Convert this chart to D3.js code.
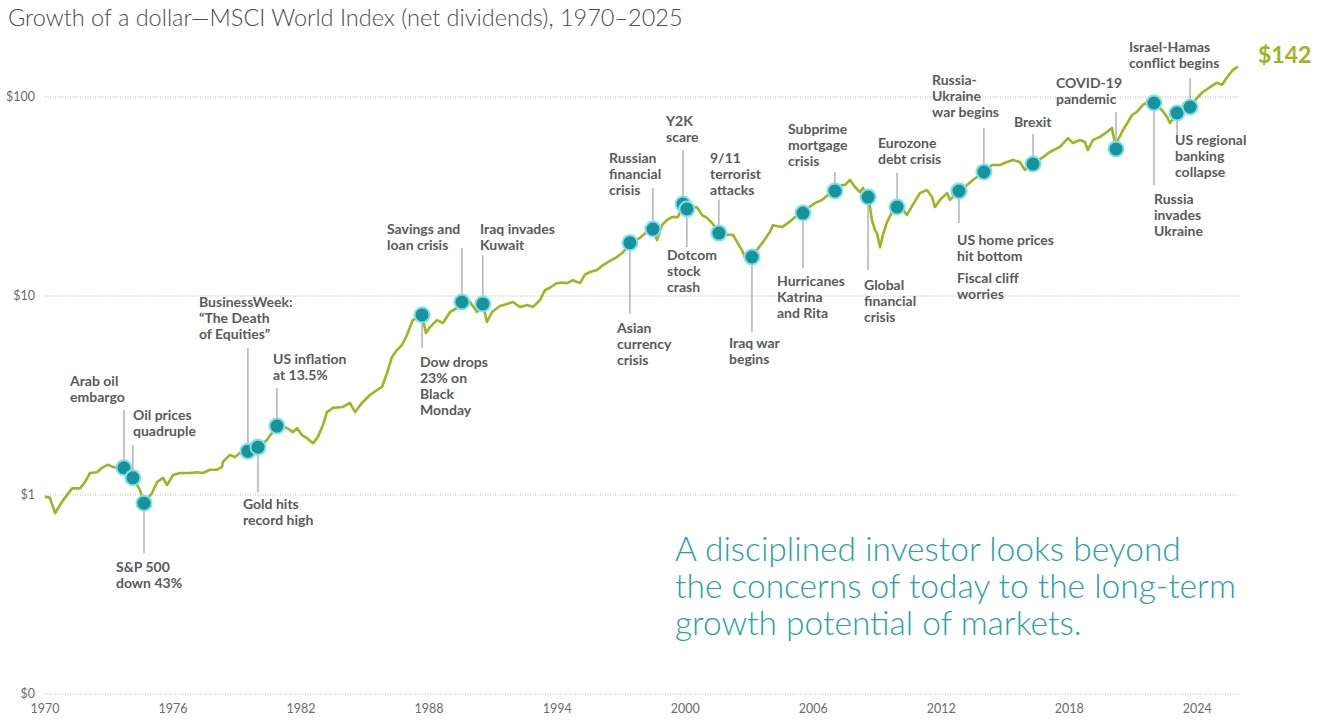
<!DOCTYPE html>
<html>
<head>
<meta charset="utf-8">
<script src="https://cdn.jsdelivr.net/npm/d3@7"></script>
<style>
  body { margin: 0; background: #fff; }
  svg { display: block; font-family: Lato, 'Open Sans', sans-serif; }
</style>
</head>
<body>
<svg width="1320" height="721"></svg>
<script>
// growth of $1 (decimal year, dollars)
const dates = [
  1970.00, 1970.23, 1970.47, 1970.84, 1971.27, 1971.64, 1971.87, 1972.11, 1972.44, 1972.67,
  1972.95, 1973.19, 1973.42, 1973.70, 1974.12, 1974.45, 1974.64, 1975.01, 1975.25, 1975.53,
  1975.72, 1976.00, 1976.33, 1976.79, 1977.12, 1977.40, 1977.73, 1978.06, 1978.29, 1978.34,
  1978.67, 1978.90, 1979.14, 1979.51, 1979.98, 1980.40, 1980.87, 1981.34, 1981.62, 1981.81,
  1982.04, 1982.28, 1982.56, 1982.79, 1983.03, 1983.21, 1983.50, 1983.96, 1984.29, 1984.53,
  1984.85, 1985.23, 1985.56, 1985.79, 1986.03, 1986.26, 1986.49, 1986.73, 1986.96, 1987.24,
  1987.67, 1987.85, 1988.04, 1988.37, 1988.65, 1988.98, 1989.31, 1989.54, 1989.92, 1990.24,
  1990.52, 1990.71, 1990.95, 1991.32, 1991.65, 1991.93, 1992.26, 1992.59, 1992.87, 1993.20,
  1993.43, 1993.66, 1993.99, 1994.23, 1994.46, 1994.74, 1995.07, 1995.30, 1995.54, 1995.87,
  1996.15, 1996.48, 1996.80, 1997.09, 1997.41, 1997.88, 1998.21, 1998.49, 1998.68, 1998.91,
  1999.15, 1999.38, 1999.66, 1999.90, 2000.08, 2000.55, 2000.79, 2001.02, 2001.26, 2001.58,
  2001.96, 2002.24, 2002.43, 2002.66, 2002.80, 2003.13, 2003.36, 2003.65, 2003.97, 2004.11,
  2004.54, 2004.82, 2005.15, 2005.52, 2005.75, 2006.08, 2006.41, 2006.69, 2007.02, 2007.35,
  2007.49, 2007.72, 2007.96, 2008.19, 2008.33, 2008.57, 2008.66, 2008.75, 2008.89, 2008.99,
  2009.13, 2009.27, 2009.46, 2009.69, 2009.93, 2010.16, 2010.39, 2010.63, 2011.00, 2011.33,
  2011.57, 2011.71, 2011.94, 2012.27, 2012.41, 2012.83, 2013.21, 2013.49, 2014.00, 2014.38,
  2014.75, 2015.08, 2015.36, 2015.69, 2015.92, 2016.06, 2016.30, 2016.72, 2017.09, 2017.56,
  2017.94, 2018.17, 2018.50, 2018.73, 2018.87, 2019.11, 2019.44, 2019.77, 2020.00, 2020.19,
  2020.28, 2020.52, 2020.75, 2020.94, 2021.17, 2021.45, 2021.69, 2021.97, 2022.34, 2022.58,
  2022.72, 2023.05, 2023.66, 2024.03, 2024.26, 2024.59, 2024.92, 2025.15, 2025.38, 2025.67,
  2025.90
];
const values = [
  0.98, 0.97, 0.81, 0.94, 1.08, 1.08, 1.16, 1.29, 1.30, 1.37,
  1.42, 1.38, 1.37, 1.37, 1.22, 1.06, 0.91, 1.02, 1.16, 1.22,
  1.12, 1.26, 1.29, 1.29, 1.30, 1.29, 1.34, 1.34, 1.38, 1.47,
  1.59, 1.55, 1.63, 1.66, 1.74, 1.89, 2.22, 2.17, 2.07, 2.17,
  2.00, 1.93, 1.82, 1.96, 2.25, 2.61, 2.74, 2.77, 2.90, 2.61,
  2.90, 3.18, 3.37, 3.49, 4.10, 4.94, 5.35, 5.67, 6.37, 7.57,
  8.03, 6.52, 6.98, 7.57, 7.32, 8.31, 8.70, 9.33, 9.33, 8.31,
  9.12, 7.40, 8.31, 8.91, 9.12, 9.33, 8.81, 9.01, 8.81, 9.55,
  10.7, 11.0, 11.6, 11.7, 11.6, 12.0, 11.6, 12.8, 13.2, 13.5,
  14.3, 15.0, 15.7, 16.6, 18.5, 19.6, 21.0, 21.7, 19.1, 22.7,
  24.1, 24.9, 24.9, 29.0, 27.4, 28.0, 25.5, 24.7, 23.3, 20.7,
  20.3, 20.3, 18.7, 17.0, 15.7, 15.7, 17.0, 18.7, 21.0, 22.7,
  22.2, 23.3, 24.9, 26.1, 27.7, 29.3, 30.4, 32.2, 33.7, 36.1,
  36.1, 38.3, 35.3, 33.3, 34.9, 31.4, 28.0, 24.1, 21.5, 20.7,
  17.6, 20.3, 23.5, 26.4, 28.0, 27.7, 25.5, 28.3, 32.9, 34.1,
  31.4, 28.0, 30.4, 32.9, 30.4, 33.7, 36.1, 38.3, 42.0, 45.5,
  45.5, 47.1, 48.2, 47.1, 43.0, 44.3, 46.1, 49.4, 52.9, 56.1,
  62.2, 58.7, 60.8, 59.4, 54.2, 60.8, 63.0, 66.7, 69.9, 54.8,
  60.8, 68.3, 74.9, 81.2, 84.1, 91.2, 94.4, 93.3, 86.1, 79.3,
  74.0, 83.1, 89.1, 100, 106, 112, 118, 115, 125, 137,
  142
];

const yearTicks = [1970, 1976, 1982, 1988, 1994, 2000, 2006, 2012, 2018, 2024];
const dollarTicks = [0.1, 1, 10, 100];
const dollarLabels = ['$0', '$1', '$10', '$100'];
const endLabel = '$142';

const events = [
  { date: 1973.70, text: ['Arab oil', 'embargo'] },
  { date: 1974.12, text: ['Oil prices', 'quadruple'] },
  { date: 1974.64, text: ['S&P 500', 'down 43%'] },
  { date: 1979.51, text: ['BusinessWeek:', '\u201cThe Death', 'of Equities\u201d'] },
  { date: 1979.98, text: ['Gold hits', 'record high'] },
  { date: 1980.87, text: ['US inflation', 'at 13.5%'] },
  { date: 1987.67, text: ['Dow drops', '23% on', 'Black', 'Monday'] },
  { date: 1989.54, text: ['Savings and', 'loan crisis'] },
  { date: 1990.52, text: ['Iraq invades', 'Kuwait'] },
  { date: 1997.41, text: ['Asian', 'currency', 'crisis'] },
  { date: 1998.49, text: ['Russian', 'financial', 'crisis'] },
  { date: 1999.90, text: ['Y2K', 'scare'] },
  { date: 2000.08, text: ['Dotcom', 'stock', 'crash'] },
  { date: 2001.58, text: ['9/11', 'terrorist', 'attacks'] },
  { date: 2003.13, text: ['Iraq war', 'begins'] },
  { date: 2005.52, text: ['Hurricanes', 'Katrina', 'and Rita'] },
  { date: 2007.02, text: ['Subprime', 'mortgage', 'crisis'] },
  { date: 2008.57, text: ['Global', 'financial', 'crisis'] },
  { date: 2009.93, text: ['Eurozone', 'debt crisis'] },
  { date: 2012.83, text: ['US home prices', 'hit bottom'] },
  { date: 2012.83, text: ['Fiscal cliff', 'worries'] },
  { date: 2014.00, text: ['Russia-', 'Ukraine', 'war begins'] },
  { date: 2016.30, text: ['Brexit'] },
  { date: 2020.19, text: ['COVID-19', 'pandemic'] },
  { date: 2021.97, text: ['Russia', 'invades', 'Ukraine'] },
  { date: 2023.05, text: ['US regional', 'banking', 'collapse'] },
  { date: 2023.66, text: ['Israel-Hamas', 'conflict begins'] }
];

// where each label sits: text left x, first baseline y, end of leader line y
const labelLayout = [
  [70, 386, 410], [133, 420, 445], [116, 572, 553], [199, 307, 348],
  [243, 509, 492], [273, 364, 388], [420, 367, 348], [387, 234, 248],
  [480, 234, 255], [617, 333, 314], [609, 163, 188], [666, 126, 150],
  [667, 260, 247], [710, 163, 200], [729, 348, 332], [777, 286, 268],
  [788, 134, 172], [864, 290, 270], [878, 148, 173], [957, 245, 223],
  [957, 283, null], [932, 85, 128], [1014, 127, 134], [1056, 88, 112],
  [1154, 204, 185], [1175, 145, 135], [1129, 52, 78]
];

const quote = [
  'A disciplined investor looks beyond',
  'the concerns of today to the long-term',
  'growth potential of markets.'
];

const svg = d3.select('svg');
const series = dates.map((d, i) => ({ date: d, value: values[i] }));

const x = d3.scaleLinear().domain([1970, 2026]).range([45, 1240]);
const y = d3.scaleLog().domain([0.1, 100]).range([694, 97]);

// value of the series at a given date (log interpolation)
const bisect = d3.bisector((d) => d.date).left;
function valueAt(t) {
  const i = Math.min(Math.max(bisect(series, t), 1), series.length - 1);
  const a = series[i - 1], b = series[i];
  const f = (t - a.date) / (b.date - a.date);
  return Math.exp(Math.log(a.value) + f * (Math.log(b.value) - Math.log(a.value)));
}

svg.append('text')
  .attr('x', 8)
  .attr('y', 26)
  .attr('font-size', 23.5)
  .attr('font-weight', 300)
  .attr('fill', '#4d4d4d')
  .text('Growth of a dollar\u2014MSCI World Index (net dividends), 1970\u20132025');

// gridlines + y labels
const grid = svg.append('g');
grid.selectAll('line')
  .data(dollarTicks)
  .enter()
  .append('line')
  .attr('x1', x(1970))
  .attr('x2', x(2026))
  .attr('y1', (d) => y(d))
  .attr('y2', (d) => y(d))
  .attr('stroke', '#b5b5b5')
  .attr('stroke-width', 1)
  .attr('stroke-dasharray', '1,1.5');
grid.selectAll('text')
  .data(dollarTicks)
  .enter()
  .append('text')
  .attr('x', 35)
  .attr('y', (d) => y(d) + 4)
  .attr('text-anchor', 'end')
  .attr('font-size', 12.5)
  .attr('fill', '#6b6b6b')
  .text((d, i) => dollarLabels[i]);

// x labels
svg.append('g')
  .selectAll('text')
  .data(yearTicks)
  .enter()
  .append('text')
  .attr('x', (d) => x(d))
  .attr('y', 713)
  .attr('text-anchor', 'middle')
  .attr('font-size', 12.5)
  .attr('fill', '#6b6b6b')
  .text((d) => d);

const line = d3.line()
  .x((d) => x(d.date))
  .y((d) => y(d.value));

svg.append('path')
  .datum(series)
  .attr('d', line)
  .attr('fill', 'none')
  .attr('stroke', '#9db51f')
  .attr('stroke-width', 2.6)
  .attr('stroke-linejoin', 'round');

svg.append('text')
  .attr('x', 1258)
  .attr('y', 63)
  .attr('font-size', 23)
  .attr('font-weight', 700)
  .attr('fill', '#9db51f')
  .text(endLabel);

// annotations
const ann = svg.append('g');
const evs = events.map((e, i) => ({
  ...e,
  cx: x(e.date),
  cy: y(valueAt(e.date)),
  tx: labelLayout[i][0],
  ty: labelLayout[i][1],
  ly: labelLayout[i][2]
}));

ann.selectAll('.leader')
  .data(evs.filter((d) => d.ly !== null))
  .enter()
  .append('line')
  .attr('class', 'leader')
  .attr('x1', (d) => d.cx)
  .attr('x2', (d) => d.cx)
  .attr('y1', (d) => d.cy)
  .attr('y2', (d) => d.ly)
  .attr('stroke', '#8c8c8c')
  .attr('stroke-width', 1);

ann.selectAll('circle')
  .data(evs)
  .enter()
  .append('circle')
  .attr('cx', (d) => d.cx)
  .attr('cy', (d) => d.cy)
  .attr('r', 7.5)
  .attr('fill', '#17939b')
  .attr('stroke', '#7ee0ea')
  .attr('stroke-width', 2);

const labels = ann.selectAll('.label')
  .data(evs)
  .enter()
  .append('text')
  .attr('class', 'label')
  .attr('font-size', 14)
  .attr('font-weight', 700)
  .attr('fill', '#5a5a5a');
labels.selectAll('tspan')
  .data((d) => d.text.map((t, j) => ({ t, x: d.tx, y: d.ty + j * 16 })))
  .enter()
  .append('tspan')
  .attr('x', (d) => d.x)
  .attr('y', (d) => d.y)
  .text((d) => d.t);

svg.append('g')
  .selectAll('text')
  .data(quote)
  .enter()
  .append('text')
  .attr('x', 675)
  .attr('y', (d, i) => 561 + i * 37)
  .attr('font-size', 33.5)
  .attr('font-weight', 300)
  .attr('fill', '#2a9fa8')
  .text((d) => d);
</script>
</body>
</html>
